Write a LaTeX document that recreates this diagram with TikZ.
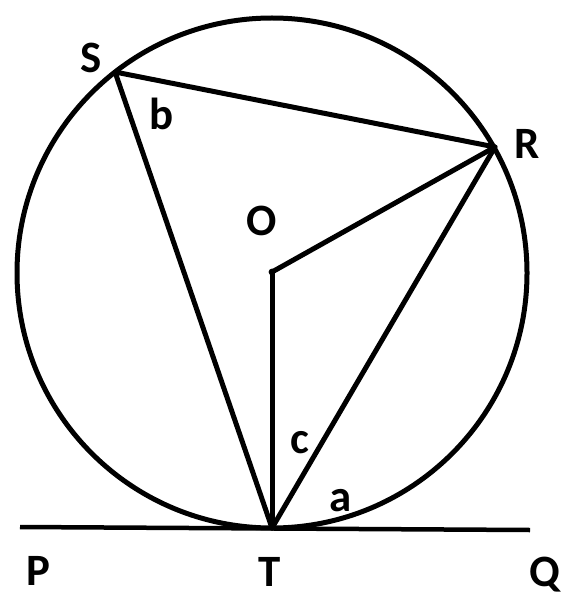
\documentclass[tikz,border=0pt]{standalone}
\usepackage{fontspec}
\setmainfont{Carlito}
\begin{document}
\begin{tikzpicture}[x=1bp,y=-1bp,
  ln/.style={line width=5bp,line join=round,line cap=round},
  lbl/.style={font=\bfseries\fontsize{45}{50}\selectfont,inner sep=0pt,anchor=base},
  sml/.style={font=\bfseries\fontsize{45}{50}\selectfont,inner sep=0pt,anchor=base}]
\useasboundingbox (0,0) rectangle (574,600);
\coordinate (O) at (272,272);
\coordinate (T) at (272,528);
\coordinate (S) at (115,72);
\coordinate (R) at (495,147);
\coordinate (Pend) at (20,527);
\coordinate (Qend) at (530,530);
\draw[ln] (272,273) circle (255);
\draw[line width=4.5bp] (Pend) -- (Qend);
\draw[ln] (S) -- (R) -- (T) -- cycle;
\draw[ln] (O) -- (R);
\draw[ln] (O) -- (T);
\fill (O) circle (3.4);
\node[lbl] (lS) at (91,73) {S};
\node[lbl] (lR) at (527,159) {R};
\node[lbl] (lO) at (262,235) {O};
\node[sml] (lb) at (162,130) {b};
\node[sml] (lc) at (300,453) {c};
\node[sml] (la) at (341,511) {a};
\node[lbl] (lP) at (38,585) {P};
\node[lbl] (lT) at (270,586) {T};
\node[lbl] (lQ) at (545,586) {Q};
\end{tikzpicture}
\end{document}
